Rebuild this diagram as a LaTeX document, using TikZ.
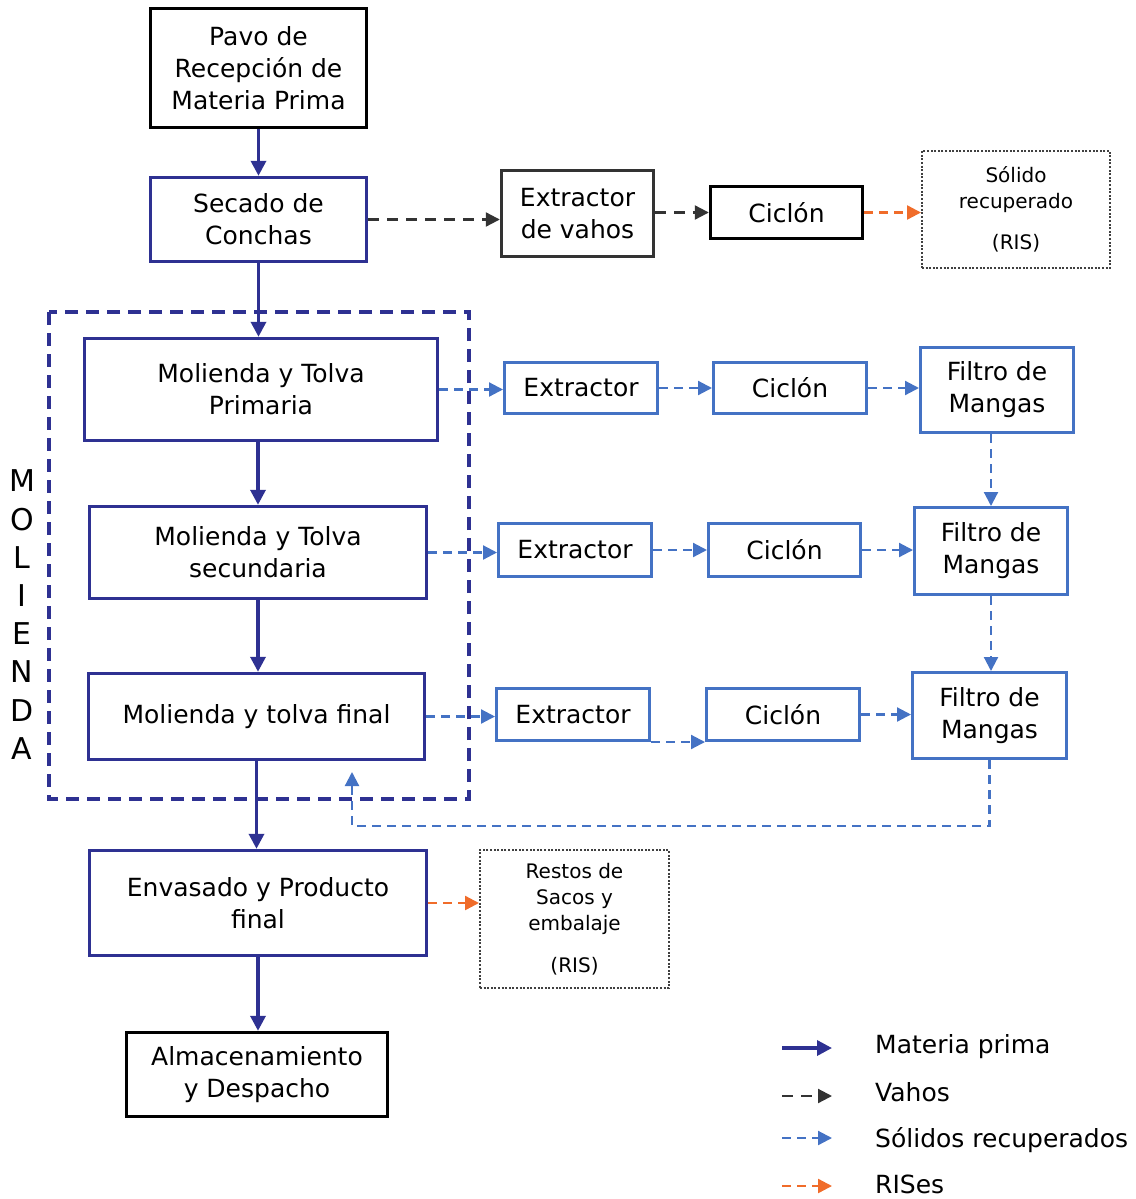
\documentclass[tikz,border=0pt]{standalone}
\usepackage{fontspec}
\setmainfont{DejaVu Sans}
\usepackage{tikz}
\usetikzlibrary{arrows.meta, positioning, calc}
\tikzstyle{box} = [rectangle, line width=3.4pt, align=center, inner sep=0pt, font=\fontsize{25}{32}\selectfont]
\tikzstyle{mpbox} = [box, draw=mpcolor]
\tikzstyle{blkbox} = [box, draw=black]
\tikzstyle{solbox} = [box, draw=solcolor, line width=3pt]
\tikzstyle{risbox} = [box, draw=black!75, line width=2pt, dash pattern=on 2pt off 1.6pt, font=\fontsize{20}{26}\selectfont]
\tikzstyle{materia} = [line width=3.4pt, draw=mpcolor, -{Triangle[length=15pt,width=15pt]}]
\tikzstyle{vaho} = [line width=2.2pt, draw=vahocolor, dash pattern=on 11pt off 8pt, -{Triangle[length=14pt,width=14pt]}]
\tikzstyle{solido} = [line width=2.2pt, draw=solcolor, dash pattern=on 9pt off 6pt, -{Triangle[length=14pt,width=14pt]}]
\tikzstyle{ris} = [line width=2.4pt, draw=riscolor, dash pattern=on 9pt off 6pt, -{Triangle[length=14pt,width=14pt]}]

\begin{document}
\begin{tikzpicture}[x=1pt, y=-1pt]
% Colours of the four streams
\definecolor{mpcolor}{RGB}{46,49,146}
\definecolor{vahocolor}{RGB}{51,51,51}
\definecolor{solcolor}{RGB}{68,114,196}
\definecolor{riscolor}{RGB}{240,108,42}

\useasboundingbox (0,0) rectangle (1135,1199);

% Main line (materia prima)
\node[blkbox, minimum width=216pt, minimum height=119pt] (pavo) at (258.5,68) {Pavo de\\Recepción de\\Materia Prima};
\node[mpbox, minimum width=216pt, minimum height=84pt] (secado) at (258.5,219.5) {Secado de\\Conchas};
\node[mpbox, minimum width=353pt, minimum height=102pt] (molp) at (261,389.5) {Molienda y Tolva\\Primaria};
\node[mpbox, minimum width=337pt, minimum height=92pt] (mols) at (258,552.5) {Molienda y Tolva\\secundaria};
\node[mpbox, minimum width=336pt, minimum height=86pt] (molf) at (256.5,716.5) {Molienda y tolva final};
\node[mpbox, minimum width=337pt, minimum height=105pt] (envasado) at (258,903) {Envasado y Producto\\final};
\node[blkbox, minimum width=261pt, minimum height=84pt] (almacen) at (257,1074.5) {Almacenamiento\\y Despacho};

% Molienda frame
\draw[mpcolor, line width=3.2pt, dash pattern=on 13pt off 8pt] (49,312) rectangle (469,799);
\foreach \l [count=\i] in {M,O,L,I,E,N,D,A} {
    \node[font=\fontsize{30}{36}\selectfont] (mol\i) at (22,{481+38.2*(\i-1)}) {\l};
}

% Vahos line
\node[box, draw=vahocolor, minimum width=152pt, minimum height=86pt] (extv) at (577.5,213.5) {Extractor\\de vahos};
\node[blkbox, minimum width=152pt, minimum height=52pt] (cicv) at (786.5,212.5) {Ciclón};
\node[risbox, minimum width=188pt, minimum height=117pt] (solrec) at (1016,209.5) {Sólido\\recuperado\\[15pt](RIS)};

% Recovered solids, three rows
\node[solbox, minimum width=153pt, minimum height=51pt] (ext1) at (581,388) {Extractor};
\node[solbox, minimum width=153pt, minimum height=51pt] (cic1) at (790,388) {Ciclón};
\node[solbox, minimum width=153pt, minimum height=85pt] (fil1) at (997,390) {Filtro de\\Mangas};
\node[solbox, minimum width=153pt, minimum height=53pt] (ext2) at (575,550) {Extractor};
\node[solbox, minimum width=152pt, minimum height=53pt] (cic2) at (784.5,550) {Ciclón};
\node[solbox, minimum width=153pt, minimum height=87pt] (fil2) at (991,551) {Filtro de\\Mangas};
\node[solbox, minimum width=153pt, minimum height=52pt] (ext3) at (573,714.5) {Extractor};
\node[solbox, minimum width=153pt, minimum height=52pt] (cic3) at (783,714.5) {Ciclón};
\node[solbox, minimum width=154pt, minimum height=86pt] (fil3) at (989.5,715.5) {Filtro de\\Mangas};

% Waste from packing
\node[risbox, minimum width=189pt, minimum height=138pt] (restos) at (574.5,919) {Restos de\\Sacos y\\embalaje\\[16pt](RIS)};

% Materia prima arrows
\draw[materia] (pavo) -- (secado);
\draw[materia] (secado) -- (secado |- molp.north);
\draw[materia] (molp.south -| mols.north) -- (mols);
\draw[materia] (mols) -- (mols.south |- molf.north);
\draw[materia] (molf) -- (molf.south |- envasado.north);
\draw[materia] (envasado) -- (envasado.south |- almacen.north);

% Vahos arrows
\draw[vaho] (secado.east) -- (secado.east -| extv.west);
\draw[vaho] (extv.east |- cicv.west) -- (cicv.west);
\draw[ris] (cicv.east) -- (cicv.east -| solrec.west);

% Solidos recuperados arrows
\draw[solido] (molp.east) -- (molp.east -| ext1.west);
\draw[solido] (ext1) -- (cic1);
\draw[solido] (cic1.east) -- (cic1.east -| fil1.west);
\draw[solido] (fil1.south -| fil2.north) -- (fil2.north);
\draw[solido] (mols.east) -- (mols.east -| ext2.west);
\draw[solido] (ext2) -- (cic2);
\draw[solido] (cic2.east) -- (cic2.east -| fil2.west);
\draw[solido] (fil2.south) -- (fil2.south |- fil3.north);
\draw[solido] (molf.east) -- (molf.east -| ext3.west);
\draw[solido] (ext3.south east) -- (ext3.south east -| cic3.west);
\draw[solido] (cic3.east) -- (cic3.east -| fil3.west);
\coordinate (retcorner) at (352,826);
\coordinate (ret) at (352,772);
\draw[solido] (fil3.south) |- (retcorner) -- (ret);

% RIS from packing
\draw[ris] (envasado.east) -- (envasado.east -| restos.west);

% Legend
\foreach \y/\yb/\st/\txt [count=\i] in {1048/1053/materia/Materia prima, 1096/1101/vaho/Vahos, 1138/1147/solido/Sólidos recuperados, 1186/1193/ris/RISes} {
    \coordinate (lg\i a) at (782,\y);
    \coordinate (lg\i b) at (832,\y);
    \draw[\st] (lg\i a) -- (lg\i b);
    \node[anchor=base west, inner sep=0pt, font=\fontsize{25}{32}\selectfont] (lgtext\i) at (875,\yb) {\txt};
}

\end{tikzpicture}
\end{document}
